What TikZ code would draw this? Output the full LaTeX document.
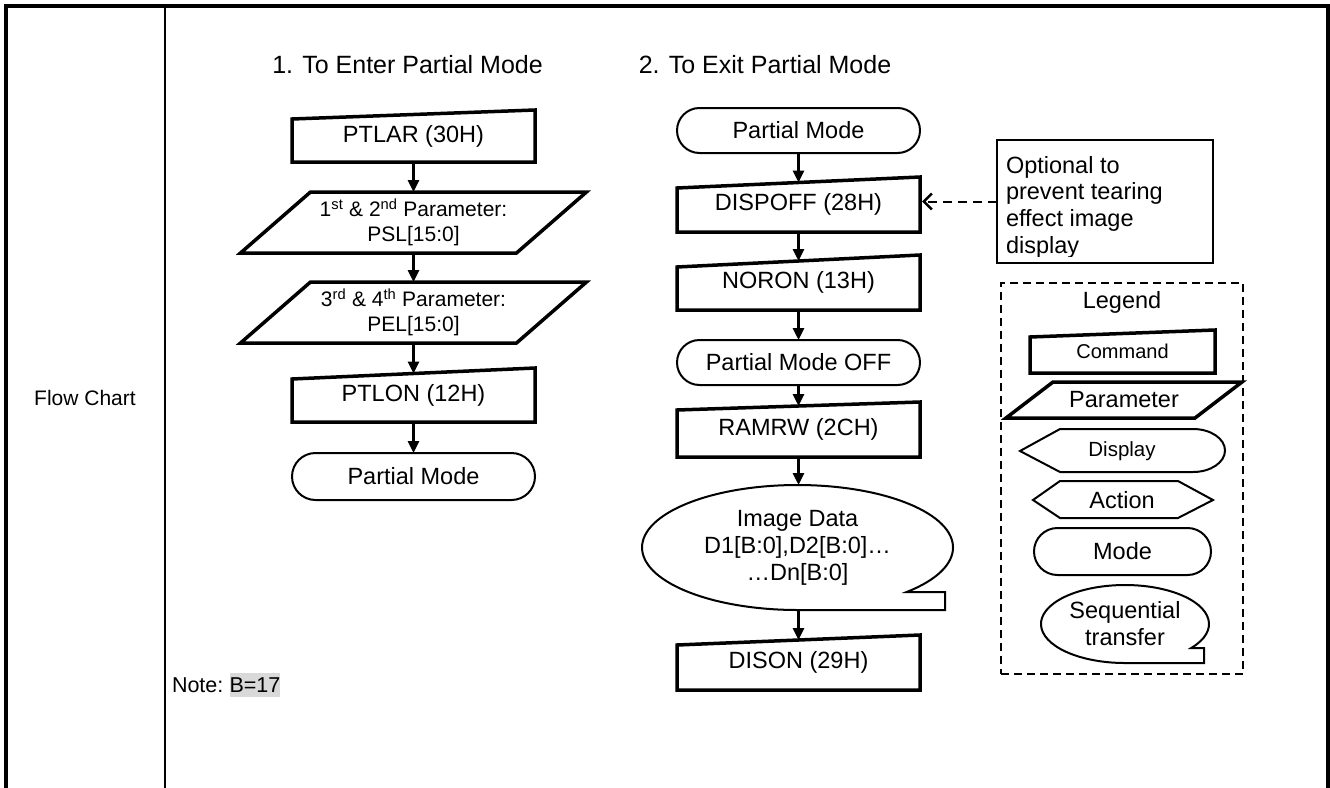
\documentclass[tikz,border=0pt]{standalone}
\usepackage{fontspec}
\setmainfont{Liberation Sans}
\usetikzlibrary{arrows.meta,shapes.misc,calc}
\definecolor{hlgray}{HTML}{D9D9D9}
\newcommand\cmdoutline[2]{\draw[thickbox] (#1.south west) -- ([yshift=-#2pt]#1.north west) -- (#1.north east) -- (#1.south east) -- cycle;}
\newcommand\paroutline[2]{\draw[thickbox] (#1.south west) -- ([xshift=#2pt]#1.north west) -- (#1.north east) -- ([xshift=-#2pt]#1.south east) -- cycle;}
\begin{document}
\begin{tikzpicture}[x=1pt,y=-1pt,
  every node/.style={inner sep=0pt, outer sep=0pt},
  main/.style={font=\fontsize{23.5}{27}\selectfont},
  small/.style={font=\fontsize{21}{25}\selectfont},
  head/.style={font=\fontsize{25}{30}\selectfont},
  thickbox/.style={line width=3.5pt, line join=miter},
  thinbox/.style={line width=2pt},
  cmd/.style={main, minimum width=243pt, minimum height=55pt},
  paramnode/.style={small, align=center, minimum width=346pt, minimum height=61pt},
  modenode/.style={main, rounded rectangle, draw, thinbox, minimum width=243pt, minimum height=46pt},
  flow/.style={line width=2.8pt, -{Triangle[length=12pt,width=11pt]}},
  optarrow/.style={line width=2pt, dash pattern=on 9pt off 6pt, -{Straight Barb[length=8pt,width=16pt,line width=2.6pt]}},
  legendbox/.style={draw, line width=2pt, dash pattern=on 8pt off 5pt},
]
\fill[white] (0,0) rectangle (1330,787);
\useasboundingbox (0,0) rectangle (1330,787);

% frame
\draw[line width=4.5pt] (5.8,800) -- (5.8,6) -- (1328,6) -- (1328,800);
\draw[line width=2pt] (164.5,6) -- (164.5,800);
\node[small] (fc) at (85,398) {Flow Chart};

% headings
\node[head, anchor=base] (h1) at (407.5,73) {1. To Enter Partial Mode};
\node[head, anchor=base] (h2) at (765,73) {2. To Exit Partial Mode};

% left column
\node[cmd, minimum height=52pt] (ptlar) at (413.5,136) {PTLAR (30H)};
\cmdoutline{ptlar}{9}
\node[paramnode] (p1) at (413.5,222.5) {1\textsuperscript{st} \& 2\textsuperscript{nd} Parameter:\\PSL[15:0]};
\paroutline{p1}{70}
\node[paramnode] (p2) at (413.5,312.5) {3\textsuperscript{rd} \& 4\textsuperscript{th} Parameter:\\PEL[15:0]};
\paroutline{p2}{70}
\node[cmd, minimum height=54pt] (ptlon) at (413.5,395) {PTLON (12H)};
\cmdoutline{ptlon}{11}
\node[modenode, minimum height=47pt] (pm1) at (413.5,476.5) {Partial Mode};

\draw[flow] (ptlar.south) -- (p1.north);
\draw[flow] (p1.south) -- (p2.north);
\draw[flow] (p2.south) -- ([yshift=-5.5pt]ptlon.north);
\draw[flow] (ptlon.south) -- (pm1.north);

% right column
\node[modenode, minimum height=45pt] (pm2) at (798.5,130.5) {Partial Mode};
\node[cmd] (dispoff) at (798.5,204.5) {DISPOFF (28H)};
\cmdoutline{dispoff}{11}
\node[cmd] (noron) at (798.5,282.5) {NORON (13H)};
\cmdoutline{noron}{12}
\node[modenode, minimum height=45pt] (pmoff) at (798.5,362.5) {Partial Mode OFF};
\node[cmd] (ramrw) at (798.5,429.5) {RAMRW (2CH)};
\cmdoutline{ramrw}{8}
\node[main, align=center, minimum width=311pt, minimum height=125pt] (img) at (797.5,547.5) {Image Data\\D1[B:0],D2[B:0]…\\…Dn[B:0]};
\draw[thinbox] (906.7,592) arc[start angle=45.4, end angle=-270, x radius=155.5, y radius=62.5] -- (945,610) -- (945,592) -- cycle;
\node[cmd] (dison) at (798.5,662.5) {DISON (29H)};
\cmdoutline{dison}{10}

\draw[flow] (pm2.south) -- ([yshift=-5.5pt]dispoff.north);
\draw[flow] (dispoff.south) -- ([yshift=-6pt]noron.north);
\draw[flow] (noron.south) -- (pmoff.north);
\draw[flow] (pmoff.south) -- ([yshift=-4pt]ramrw.north);
\draw[flow] (ramrw.south) -- (ramrw.south |- img.north);
\draw[flow] (ramrw.south |- img.south) -- ([yshift=-5pt]dison.north);

% optional note
\node[draw, thinbox, minimum width=216pt, minimum height=123pt] (opt) at (1105,201.5) {};
\begin{scope}
\clip (997,140) rectangle (1213,256);
\node[font=\fontsize{23.5}{26.7}\selectfont, align=left, anchor=north west] (opttext) at (1006,156) {Optional to\\prevent tearing\\effect image\\display};
\end{scope}
\draw[optarrow] (opt.west) -- ([xshift=2pt]opt.west -| dispoff.east);

% legend
\node[legendbox, minimum width=242pt, minimum height=391pt, anchor=north west] (legend) at (1001,283) {};
\node[main] (legtitle) at (1122,302) {Legend};
\node[font=\fontsize{20}{24}\selectfont, minimum width=185pt, minimum height=43pt] (lcmd) at (1122.5,351.5) {Command};
\cmdoutline{lcmd}{7}
\node[main, minimum width=236pt, minimum height=36pt] (lpar) at (1124,400) {Parameter};
\paroutline{lpar}{47}
\node[font=\fontsize{20.5}{24}\selectfont] (ldisp) at (1122,451) {Display};
\draw[thinbox] (1020,451) -- (1060,429) -- (1193,429) arc[start angle=-90, end angle=90, x radius=32, y radius=21.5] -- (1060,472) -- cycle;
\node[main] (lact) at (1122,500) {Action};
\draw[thinbox] (1033,500) -- (1060,481) -- (1178,481) -- (1213,500) -- (1178,518) -- (1060,518) -- cycle;
\node[modenode, minimum width=177pt, minimum height=47pt] (lmode) at (1122.5,551.5) {Mode};
\node[main, align=center] (lseq) at (1125,624) {Sequential\\transfer};
\draw[thinbox] (1191.2,648) arc[start angle=37.97, end angle=-270, x radius=84, y radius=39] -- (1204,663) -- (1204,648) -- cycle;

% note
\node[font=\fontsize{21.5}{26}\selectfont, anchor=base west] (note) at (172,692.5) {Note:};
\node[font=\fontsize{21.5}{26}\selectfont, anchor=base west, fill=hlgray, text height=19.5pt, text depth=4.6pt] (b17) at (229.5,692.5) {B=17};
\end{tikzpicture}
\end{document}
